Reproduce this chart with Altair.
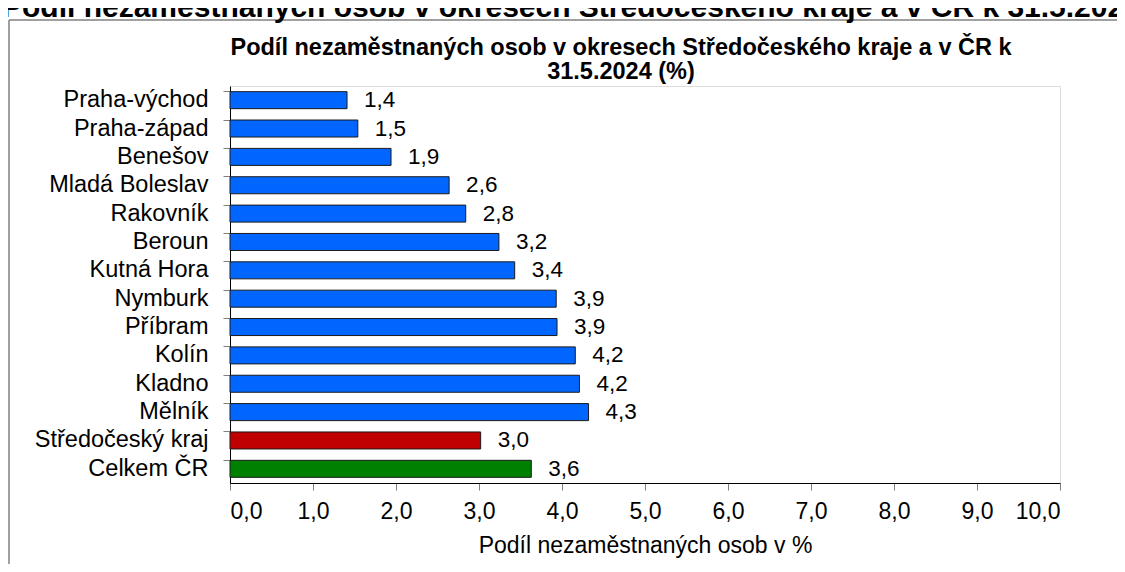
import altair as alt
import pandas as pd

categories = ["Praha-východ", "Praha-západ", "Benešov", "Mladá Boleslav", "Rakovník",
              "Beroun", "Kutná Hora", "Nymburk", "Příbram", "Kolín", "Kladno", "Mělník",
              "Středočeský kraj", "Celkem ČR"]
values = [1.41, 1.54, 1.94, 2.64, 2.84, 3.24, 3.43, 3.93, 3.94, 4.16, 4.21, 4.32, 3.02, 3.63]
groups = ["okres"] * 12 + ["kraj", "ČR"]
group_domain = ["okres", "kraj", "ČR"]
group_colors = ["#0066ff", "#c00000", "#008000"]
x_ticks = list(range(0, 11))

outer_title = "Podíl nezaměstnaných osob v okresech Středočeského kraje a v ČR k 31.5.2024"
title_line1 = "Podíl nezaměstnaných osob v okresech Středočeského kraje a v ČR k"
title_line2 = "31.5.2024 (%)"
x_title = "Podíl nezaměstnaných osob v %"

FONT = "Liberation Sans"

df = pd.DataFrame({
    "category": categories,
    "value": values,
    "group": groups,
    "label": [f"{v:.1f}".replace(".", ",") for v in values],
})

W, H = 830, 397

base = alt.Chart(df)

bars = base.mark_bar(stroke="#1a1a1a", strokeWidth=1).encode(
    x=alt.X("value:Q",
            scale=alt.Scale(domain=[0, 10], nice=False, zero=True),
            axis=alt.Axis(values=x_ticks,
                          labelExpr="replace(format(datum.value, '.1f'), '.', ',')",
                          title=x_title, grid=False, tickSize=7, tickColor="#808080",
                          domainColor="#000000", labelFontSize=23, titleFontSize=23,
                          titleFontWeight="normal", labelColor="#000000", titleColor="#000000",
                          labelPadding=10, titlePadding=11, labelFont=FONT, titleFont=FONT)),
    y=alt.Y("category:N", sort=categories,
            scale=alt.Scale(paddingInner=0.4, paddingOuter=0.2),
            axis=alt.Axis(title=None, bandPosition=0, tickSize=7, tickColor="#808080",
                          domainColor="#000000", labelFontSize=23.5, labelColor="#000000",
                          labelPadding=15, labelFont=FONT, labelLimit=400)),
    color=alt.Color("group:N", scale=alt.Scale(domain=group_domain, range=group_colors),
                    legend=None),
)

labels = base.mark_text(align="left", baseline="middle", dx=17, fontSize=22.5,
                        font=FONT, color="#000000").encode(
    x="value:Q",
    y=alt.Y("category:N", sort=categories),
    text="label:N",
)

one = alt.Data(values=[{"k": 1}])

frame_left = alt.Chart(one).mark_rule(stroke="#808080", strokeWidth=1.5).encode(
    x=alt.value(-221), y=alt.value(-66), y2=alt.value(486))
frame_top = alt.Chart(one).mark_rule(stroke="#808080", strokeWidth=1.5).encode(
    x=alt.value(-221), x2=alt.value(894), y=alt.value(-66))

t_outer = alt.Chart(one).mark_text(align="left", baseline="alphabetic", fontSize=30,
                                   fontWeight="bold", font=FONT, color="#000000").encode(
    x=alt.value(-228), y=alt.value(-69), text=alt.value(outer_title))

t1 = alt.Chart(one).mark_text(align="center", baseline="alphabetic", fontSize=23.5,
                              fontWeight="bold", font=FONT, color="#000000").encode(
    x=alt.value(391), y=alt.value(-31), text=alt.value(title_line1))

t2 = alt.Chart(one).mark_text(align="center", baseline="alphabetic", fontSize=23.5,
                              fontWeight="bold", font=FONT, color="#000000").encode(
    x=alt.value(391), y=alt.value(-7), text=alt.value(title_line2))

chart = alt.layer(frame_left, frame_top, bars, labels, t_outer, t1, t2).properties(
    width=W, height=H,
    padding={"left": 222, "top": 78, "right": 57, "bottom": 81},
    autosize=alt.AutoSizeParams(type="none"),
).configure_view(stroke="#808080", strokeWidth=1).configure(font=FONT)

chart.save("out.html", embed_options={"renderer": "svg", "actions": False})
